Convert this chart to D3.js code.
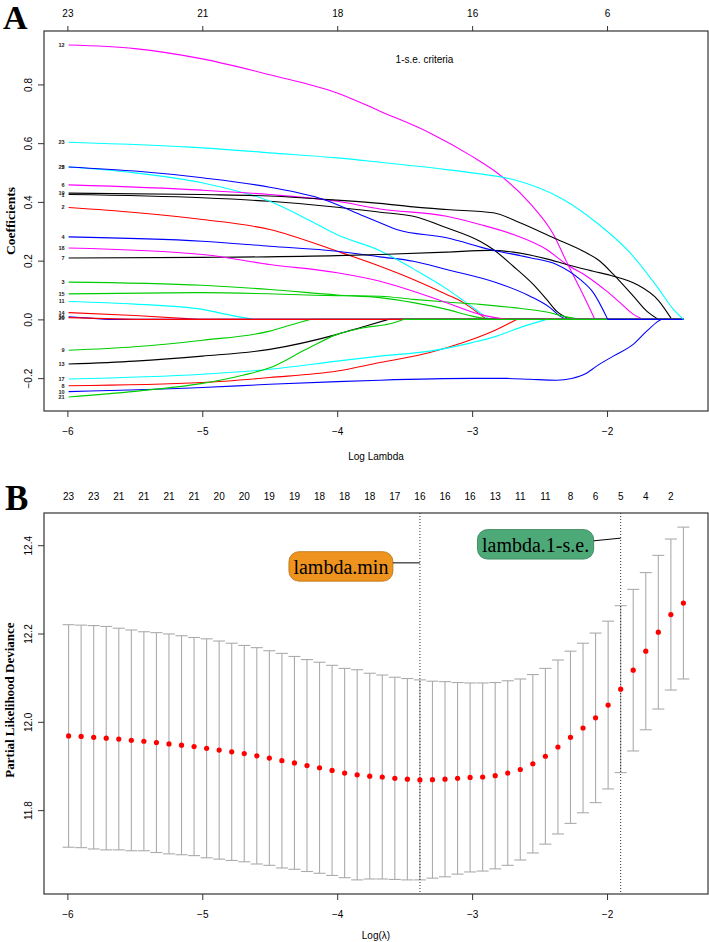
<!DOCTYPE html>
<html><head><meta charset="utf-8">
<script src="https://cdn.jsdelivr.net/npm/d3@7/dist/d3.min.js"></script>
<style>body{margin:0;background:#fff}svg{display:block}</style>
</head><body>
<svg id="c" width="709" height="942"></svg>
<script>
// ---------------- DATA: Panel A (coefficient paths, [log lambda, coefficient]) ----------------
const coef1  = [[-5.991,0.425],[-5,0.414],[-4.5,0.402],[-4,0.382],[-3.683,0.365],[-3.436,0.351],[-3.189,0.312],[-2.942,0.266],[-2.843,0.238],[-2.695,0.181],[-2.547,0.119],[-2.448,0.068],[-2.374,0.028],[-2.275,0]];
const coef2  = [[-5.991,0.381],[-5.5,0.364],[-5,0.340],[-4.5,0.306],[-4,0.232],[-3.683,0.181],[-3.436,0.136],[-3.189,0.085],[-3.065,0.057],[-2.942,0.017],[-2.892,0]];
const coef3  = [[-5.991,0.127],[-5,0.116],[-4.5,0.102],[-4,0.083],[-3.683,0.074],[-3.436,0.057],[-3.189,0.034],[-3.0,0.011],[-2.868,0]];
const coef4  = [[-5.991,0.281],[-5,0.266],[-4.5,0.249],[-4,0.232],[-3.683,0.213],[-3.436,0.198],[-3.189,0.170],[-2.818,0.125],[-2.571,0.079],[-2.423,0.040],[-2.349,0.011],[-2.30,0]];
const coef5  = [[-5.991,0.519],[-5.5,0.499],[-5,0.465],[-4.5,0.402],[-4.2,0.336],[-4,0.288],[-3.683,0.234],[-3.436,0.172],[-3.189,0.104],[-3.065,0.064],[-2.942,0.023],[-2.868,0]];
const coef6  = [[-5.991,0.458],[-5,0.440],[-4.5,0.425],[-4,0.402],[-3.683,0.376],[-3.189,0.351],[-2.942,0.323],[-2.695,0.289],[-2.448,0.238],[-2.299,0.187],[-2.151,0.147],[-2.003,0.096],[-1.904,0.057],[-1.805,0.017],[-1.731,0]];
const coef7  = [[-5.991,0.209],[-5,0.211],[-4,0.217],[-3.683,0.221],[-3.189,0.229],[-2.868,0.235],[-2.695,0.229],[-2.448,0.206],[-2.299,0.187],[-2.102,0.164],[-1.953,0.147],[-1.78,0.119],[-1.62,0.065],[-1.52,0]];
const coef8  = [[-5.991,-0.226],[-5,-0.215],[-4.5,-0.198],[-4,-0.176],[-3.683,-0.147],[-3.313,-0.113],[-3.066,-0.079],[-2.868,-0.045],[-2.67,0]];
const coef9  = [[-5.991,-0.105],[-5.5,-0.093],[-5,-0.071],[-4.5,-0.040],[-4.35,-0.020],[-4.2,0]];
const coef10 = [[-5.991,-0.246],[-5,-0.232],[-4.5,-0.221],[-4,-0.212],[-3.683,-0.207],[-3.0,-0.201],[-2.744,-0.201],[-2.571,-0.204],[-2.374,-0.207],[-2.262,-0.201],[-2.16,-0.185],[-2.077,-0.159],[-1.954,-0.125],[-1.806,-0.085],[-1.706,-0.040],[-1.62,-0.006],[-1.6,0]];
const coef11 = [[-5.991,0.061],[-5.5,0.052],[-5,0.034],[-4.82,0.017],[-4.62,0]];
const coef12 = [[-5.991,0.934],[-5.5,0.922],[-5,0.887],[-4.5,0.833],[-4,0.771],[-3.683,0.709],[-3.313,0.635],[-3.0,0.555],[-2.818,0.500],[-2.571,0.395],[-2.398,0.290],[-2.299,0.195],[-2.2,0.105],[-2.09,0]];
const coef13 = [[-5.991,-0.152],[-5.5,-0.142],[-5,-0.125],[-4.5,-0.102],[-4,-0.051],[-3.8,-0.024],[-3.62,0]];
const coef14 = [[-5.991,0.023],[-5.5,0.013],[-5.02,0]];
const coef15 = [[-5.991,0.087],[-5,0.091],[-4,0.081],[-3.683,0.079],[-3.436,0.068],[-3.189,0.059],[-2.942,0.051],[-2.695,0.040],[-2.448,0.025],[-2.324,0.011],[-2.2,0]];
const coef16 = [[-5.991,0.009],[-5.7,0]];
const coef17 = [[-5.991,-0.203],[-5,-0.187],[-4.5,-0.170],[-4,-0.142],[-3.683,-0.125],[-3.313,-0.108],[-3.0,-0.079],[-2.818,-0.057],[-2.646,-0.028],[-2.448,0]];
const coef18 = [[-5.991,0.243],[-5,0.221],[-4.5,0.187],[-4,0.159],[-3.683,0.130],[-3.436,0.096],[-3.189,0.057],[-2.942,0.017],[-2.744,0]];
const coef19 = [[-5.991,0.430],[-5,0.425],[-4.5,0.420],[-4,0.406],[-3.683,0.395],[-3.436,0.383],[-3.189,0.374],[-2.843,0.363],[-2.645,0.329],[-2.398,0.278],[-2.176,0.232],[-2.052,0.198],[-1.953,0.153],[-1.805,0.079],[-1.706,0.028],[-1.62,0]];
const coef20 = [[-5.991,0.006],[-5.5,0]];
const coef21 = [[-5.991,-0.264],[-5.5,-0.245],[-5,-0.218],[-4.7,-0.190],[-4.5,-0.165],[-4.23,-0.102],[-4,-0.051],[-3.8,-0.028],[-3.61,-0.015],[-3.51,0]];
const coef22 = [[-5.991,0.519],[-5.5,0.505],[-5,0.482],[-4.5,0.450],[-4.1,0.408],[-3.8,0.351],[-3.683,0.329],[-3.56,0.306],[-3.189,0.278],[-2.868,0.238],[-2.571,0.210],[-2.374,0.187],[-2.2,0.136],[-2.102,0.091],[-1.995,0]];
const coef23 = [[-5.991,0.603],[-5,0.584],[-4.5,0.567],[-4,0.550],[-3.683,0.535],[-3.189,0.510],[-3.0,0.499],[-2.695,0.476],[-2.324,0.408],[-2.077,0.329],[-1.83,0.227],[-1.632,0.113],[-1.508,0.034],[-1.434,0]];
const coefPaths = [coef1,coef2,coef3,coef4,coef5,coef6,coef7,coef8,coef9,coef10,coef11,coef12,coef13,coef14,coef15,coef16,coef17,coef18,coef19,coef20,coef21,coef22,coef23];
const axisTicksA = [-6,-5,-4,-3,-2];
const dfLabelsA = ["23","21","18","16","6"];
const yTicksA = [-0.2,0.0,0.2,0.4,0.6,0.8];

// ---------------- DATA: Panel B (cross-validation curve) ----------------
const lambdaLog = [-5.991,-5.898,-5.805,-5.712,-5.619,-5.526,-5.433,-5.340,-5.247,-5.154,
 -5.061,-4.968,-4.875,-4.782,-4.689,-4.596,-4.503,-4.410,-4.317,-4.224,
 -4.131,-4.038,-3.945,-3.852,-3.759,-3.666,-3.573,-3.480,-3.387,-3.294,
 -3.201,-3.108,-3.015,-2.922,-2.829,-2.736,-2.643,-2.550,-2.457,-2.364,
 -2.271,-2.178,-2.085,-1.992,-1.899,-1.806,-1.713,-1.620,-1.527,-1.434];
const cvMean = [11.968,11.967,11.965,11.963,11.961,11.958,11.956,11.953,11.950,11.947,
 11.944,11.940,11.936,11.932,11.928,11.923,11.918,11.912,11.907,11.901,
 11.896,11.890,11.884,11.880,11.877,11.875,11.872,11.870,11.8685,11.869,
 11.870,11.872,11.874,11.875,11.878,11.884,11.892,11.905,11.922,11.943,
 11.965,11.986,12.009,12.038,12.074,12.117,12.160,12.203,12.243,12.269];
const cvUpper = [12.220,12.219,12.218,12.216,12.212,12.208,12.204,12.202,12.199,12.195,
 12.191,12.188,12.183,12.178,12.173,12.168,12.161,12.155,12.148,12.141,
 12.135,12.128,12.121,12.118,12.110,12.106,12.101,12.098,12.095,12.092,
 12.091,12.089,12.088,12.088,12.089,12.093,12.097,12.107,12.121,12.140,
 12.160,12.178,12.201,12.228,12.263,12.300,12.338,12.377,12.414,12.441];
const cvLower = [11.716,11.715,11.712,11.710,11.710,11.708,11.708,11.704,11.701,11.699,
 11.697,11.692,11.689,11.686,11.683,11.678,11.675,11.669,11.666,11.661,
 11.657,11.652,11.647,11.642,11.644,11.644,11.643,11.642,11.642,11.646,
 11.649,11.655,11.660,11.662,11.667,11.675,11.687,11.703,11.723,11.746,
 11.770,11.794,11.817,11.848,11.885,11.934,11.982,12.029,12.072,12.097];
const nzeroLabelsB = ["23","23","21","21","21","21","20","20","19","19","18","18","18","17","16","16","16","13","11","11","8","6","5","4","2"];
const axisTicksB = [-6,-5,-4,-3,-2];
const yTicksB = [11.8,12.0,12.2,12.4];
const lambdaMin = -3.387, lambda1se = -1.899;
const minLabelText = "lambda.min", seLabelText = "lambda.1-s.e.";

// ---------------- DRAWING ----------------
const svg = d3.select("#c");
const sans = "'Liberation Sans', Arial, Helvetica, sans-serif";
const serif = "'Liberation Serif', 'Times New Roman', serif";
const palette = ["#000000","#FF0000","#00CD00","#0000FF","#00FFFF","#FF00FF"];
const L = 44, R = 708;
const A = {top:31, bottom:411};
const B = {top:513, bottom:894};
const pad = e => { const d = (e[1]-e[0])*0.04; return [e[0]-d, e[1]+d]; };

// ===== Panel A =====
const allKnots = coefPaths.flat();
const xExtA = d3.extent(allKnots, d => d[0]);
const xA = d3.scaleLinear().domain(pad(xExtA)).range([L, R]);
const yA = d3.scaleLinear().domain(pad(d3.extent(allKnots, d => d[1]))).range([A.bottom, A.top]);

const gA = svg.append("g");
const lineA = d3.line().x(d => xA(d[0])).y(d => yA(d[1])).curve(d3.curveMonotoneX);
coefPaths.forEach((p, i) => {
  const col = palette[i % 6];
  gA.append("path").attr("d", lineA(p)).attr("fill","none").attr("stroke",col).attr("stroke-width",1.1);
  const last = p[p.length-1];
  if (last[0] < xExtA[1]) {
    gA.append("line").attr("x1", xA(last[0])).attr("x2", xA(xExtA[1]))
      .attr("y1", yA(0)).attr("y2", yA(0)).attr("stroke", col).attr("stroke-width",1.1);
  }
});
// variable labels at the left end
gA.selectAll("text.vl").data(coefPaths).join("text").attr("class","vl")
  .attr("x", d => xA(d[0][0]) - 4).attr("y", d => yA(d[0][1]) + 2)
  .attr("text-anchor","end").attr("font-family",sans).attr("font-size",5.5).attr("font-weight","bold")
  .attr("fill","#222").text((d,i) => String(i+1));

// box
svg.append("rect").attr("x",L).attr("y",A.top).attr("width",R-L).attr("height",A.bottom-A.top)
  .attr("fill","none").attr("stroke","#333").attr("stroke-width",1.2);

// bottom axis A
const axA = svg.append("g").attr("transform",`translate(0,${A.bottom})`)
  .call(d3.axisBottom(xA).tickValues(axisTicksA).tickSize(6).tickPadding(11).tickFormat(d3.format("d")));
axA.select(".domain").remove();
// top axis A
const axAt = svg.append("g").attr("transform",`translate(0,${A.top})`)
  .call(d3.axisTop(xA).tickValues(axisTicksA).tickSize(5).tickPadding(9).tickFormat((d,i) => dfLabelsA[i]));
axAt.select(".domain").remove();
// left axis A
const axAl = svg.append("g").attr("transform",`translate(${L},0)`)
  .call(d3.axisLeft(yA).tickValues(yTicksA).tickSize(6).tickFormat(d3.format(".1f")));
axAl.select(".domain").remove();
axAl.selectAll(".tick text").attr("transform","rotate(-90)").attr("x",0).attr("y",-12.5).attr("dy",0).attr("text-anchor","middle");

svg.append("text").attr("x",(L+R)/2).attr("y",459.5).attr("text-anchor","middle")
  .attr("font-family",sans).attr("font-size",10).text("Log Lambda");
svg.append("text").attr("transform",`translate(15,${(A.top+A.bottom)/2}) rotate(-90)`).attr("text-anchor","middle")
  .attr("font-family",serif).attr("font-weight","bold").attr("font-size",13.5).text("Coefficients");
svg.append("text").attr("x",424.5).attr("y",62.5).attr("text-anchor","middle")
  .attr("font-family",sans).attr("font-size",10).text("1-s.e. criteria");
svg.append("text").attr("x",3).attr("y",29).attr("font-family",serif).attr("font-weight","bold")
  .attr("font-size",34).text("A");

// ===== Panel B =====
const xB = d3.scaleLinear().domain(pad(d3.extent(lambdaLog))).range([L, R]);
const yB = d3.scaleLinear().domain(pad([d3.min(cvLower), d3.max(cvUpper)])).range([B.bottom, B.top]);
const gB = svg.append("g");
const capW = 6;
const bars = lambdaLog.map((l,i) => ({l, m:cvMean[i], u:cvUpper[i], lo:cvLower[i]}));
const barCol = "#ababab";
gB.selectAll("line.v").data(bars).join("line").attr("class","v")
  .attr("x1",d=>xB(d.l)).attr("x2",d=>xB(d.l)).attr("y1",d=>yB(d.u)).attr("y2",d=>yB(d.lo))
  .attr("stroke",barCol).attr("stroke-width",1.1);
gB.selectAll("line.cu").data(bars).join("line").attr("class","cu")
  .attr("x1",d=>xB(d.l)-capW).attr("x2",d=>xB(d.l)+capW).attr("y1",d=>yB(d.u)).attr("y2",d=>yB(d.u))
  .attr("stroke",barCol).attr("stroke-width",1.1);
gB.selectAll("line.cl").data(bars).join("line").attr("class","cl")
  .attr("x1",d=>xB(d.l)-capW).attr("x2",d=>xB(d.l)+capW).attr("y1",d=>yB(d.lo)).attr("y2",d=>yB(d.lo))
  .attr("stroke",barCol).attr("stroke-width",1.1);
// vertical dotted lines
[lambdaMin, lambda1se].forEach(v => {
  gB.append("line").attr("x1",xB(v)).attr("x2",xB(v)).attr("y1",B.top).attr("y2",B.bottom)
    .attr("stroke","#000").attr("stroke-width",0.8).attr("stroke-dasharray","1,2");
});
gB.selectAll("circle").data(bars).join("circle")
  .attr("cx",d=>xB(d.l)).attr("cy",d=>yB(d.m)).attr("r",2.6).attr("fill","#FF0000");

svg.append("rect").attr("x",L).attr("y",B.top).attr("width",R-L).attr("height",B.bottom-B.top)
  .attr("fill","none").attr("stroke","#333").attr("stroke-width",1.2);

const axB = svg.append("g").attr("transform",`translate(0,${B.bottom})`)
  .call(d3.axisBottom(xB).tickValues(axisTicksB).tickSize(6).tickPadding(10.5).tickFormat(d3.format("d")));
axB.select(".domain").remove();
const axBl = svg.append("g").attr("transform",`translate(${L},0)`)
  .call(d3.axisLeft(yB).tickValues(yTicksB).tickSize(6).tickFormat(d3.format(".1f")));
axBl.select(".domain").remove();
axBl.selectAll(".tick text").attr("transform","rotate(-90)").attr("x",0).attr("y",-12.5).attr("dy",0).attr("text-anchor","middle");
// top labels (number of nonzero coefficients), every other lambda
const topLamB = lambdaLog.filter((d,i) => i % 2 === 0);
svg.selectAll("text.nz").data(nzeroLabelsB).join("text").attr("class","nz")
  .attr("x",(d,i)=>xB(topLamB[i])).attr("y",B.top-13.5).attr("text-anchor","middle")
  .attr("font-family",sans).attr("font-size",10).text(d=>d);

svg.append("text").attr("x",(L+R)/2).attr("y",938.5).attr("text-anchor","middle")
  .attr("font-family",sans).attr("font-size",10).text("Log(λ)");
svg.append("text").attr("transform",`translate(13.5,700) rotate(-90)`).attr("text-anchor","middle")
  .attr("font-family",serif).attr("font-weight","bold").attr("font-size",13).text("Partial Likelihood Deviance");
svg.append("text").attr("x",5).attr("y",510).attr("font-family",serif).attr("font-weight","bold")
  .attr("font-size",35).text("B");

// style all tick texts
svg.selectAll(".tick text").attr("font-family",sans).attr("font-size",10).attr("fill","#000");
svg.selectAll(".tick line").attr("stroke","#333");

// annotation boxes
function label(txt, lamX, boxCY, lineY, fill, stroke){
  const lx = xB(lamX);
  const g = svg.append("g");
  const t = g.append("text").attr("font-family",serif).attr("font-size",20).attr("text-anchor","middle")
    .attr("dominant-baseline","central").text(txt);
  const w = t.node().getComputedTextLength() + 9, h = 29.5;
  const right = lx - 27, cx = right - w/2, cy = yB(boxCY);
  g.insert("rect","text").attr("x",right-w).attr("y",cy-h/2).attr("width",w).attr("height",h)
    .attr("rx",10).attr("ry",10).attr("fill",fill).attr("stroke",stroke).attr("stroke-width",0.8);
  t.attr("x",cx).attr("y",cy+1);
  g.append("line").attr("x1",right).attr("y1",yB(boxCY+0.008)).attr("x2",lx).attr("y2",yB(lineY))
    .attr("stroke","#000").attr("stroke-width",1);
}
label(minLabelText, lambdaMin, 12.352, 12.36, "#EE931E", "#B8700F");
label(seLabelText, lambda1se, 12.402, 12.416, "#4DAA78", "#2E7D52");
</script>
</body></html>
